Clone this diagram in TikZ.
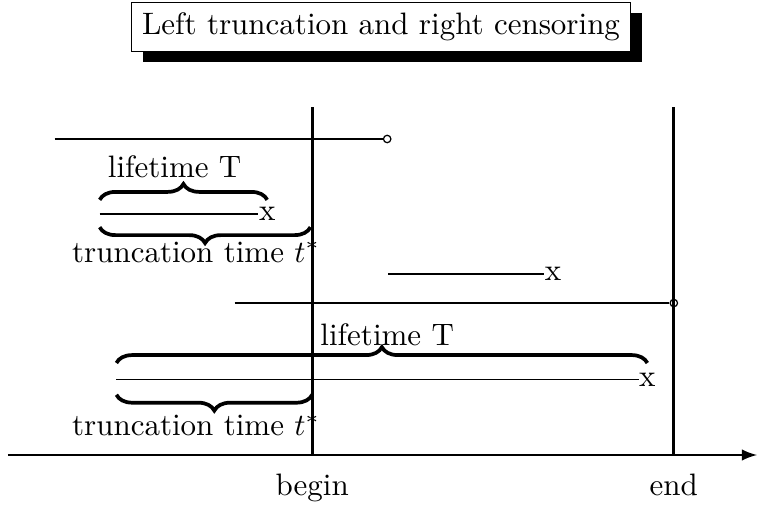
\documentclass[tikz,border=0pt]{standalone}
\usetikzlibrary{decorations.pathreplacing,shadows}
\begin{document}
\begin{tikzpicture}[>=latex,
  brc/.style={decorate,decoration={brace,amplitude=0.18cm},very thick},
  dot/.style={draw,circle,inner sep=0pt,minimum size=2.4pt},
  cross/.style={inner sep=0pt}]
\useasboundingbox (0,0) rectangle (8.583,5.726);
\node[draw,fill=white,drop shadow={shadow xshift=0.13cm,shadow yshift=-0.12cm,fill=black,opacity=1}] (title) at (4.32,5.42) {Left truncation and right censoring};
% time axis
\coordinate (a0) at (0.09,0.567);
\coordinate (a1) at (8.583,0.567);
\draw[->,line width=0.7pt] (a0) -- (a1);
\coordinate (b0) at (3.54,0.567);
\coordinate (b1) at (3.54,4.51);
\coordinate (e0) at (7.64,0.567);
\coordinate (e1) at (7.64,4.51);
\draw[line width=0.9pt] (b0) -- (b1);
\draw[line width=0.9pt] (e0) -- (e1);
\node[anchor=base] (begin) at (3.54,0.113) {begin};
\node[anchor=base] (end) at (7.64,0.113) {end};
% subjects
\coordinate (s1) at (0.62,4.15);
\node[dot] (c1) at (4.39,4.15) {};
\draw (s1) -- (c1);
\coordinate (s2) at (1.13,3.30);
\node[cross] (x2) at (3.03,3.30) {x};
\draw (s2) -- (x2.west);
\coordinate (s3) at (4.40,2.62);
\node[cross] (x3) at (6.27,2.62) {x};
\draw (s3) -- (x3.west);
\coordinate (s4) at (2.66,2.29);
\node[dot] (c4) at (7.64,2.29) {};
\draw (s4) -- (c4);
\coordinate (s5) at (1.32,1.42);
\node[cross] (x5) at (7.34,1.42) {x};
\draw (s5) -- (x5.west);
% braces
\draw[brc] (1.13,3.46) -- (3.03,3.46);
\draw[brc] (3.52,3.15) -- (1.13,3.15);
\node[anchor=base] (life2) at (1.98,3.71) {lifetime T};
\node[anchor=base east] (trunc2) at (3.75,2.755) {truncation time $t^*$};
\draw[brc] (1.32,1.61) -- (7.34,1.61);
\draw[brc] (3.54,1.25) -- (1.32,1.25);
\node[anchor=base] (life5) at (4.39,1.81) {lifetime T};
\node[anchor=base east] (trunc5) at (3.75,0.79) {truncation time $t^*$};
\end{tikzpicture}
\end{document}
